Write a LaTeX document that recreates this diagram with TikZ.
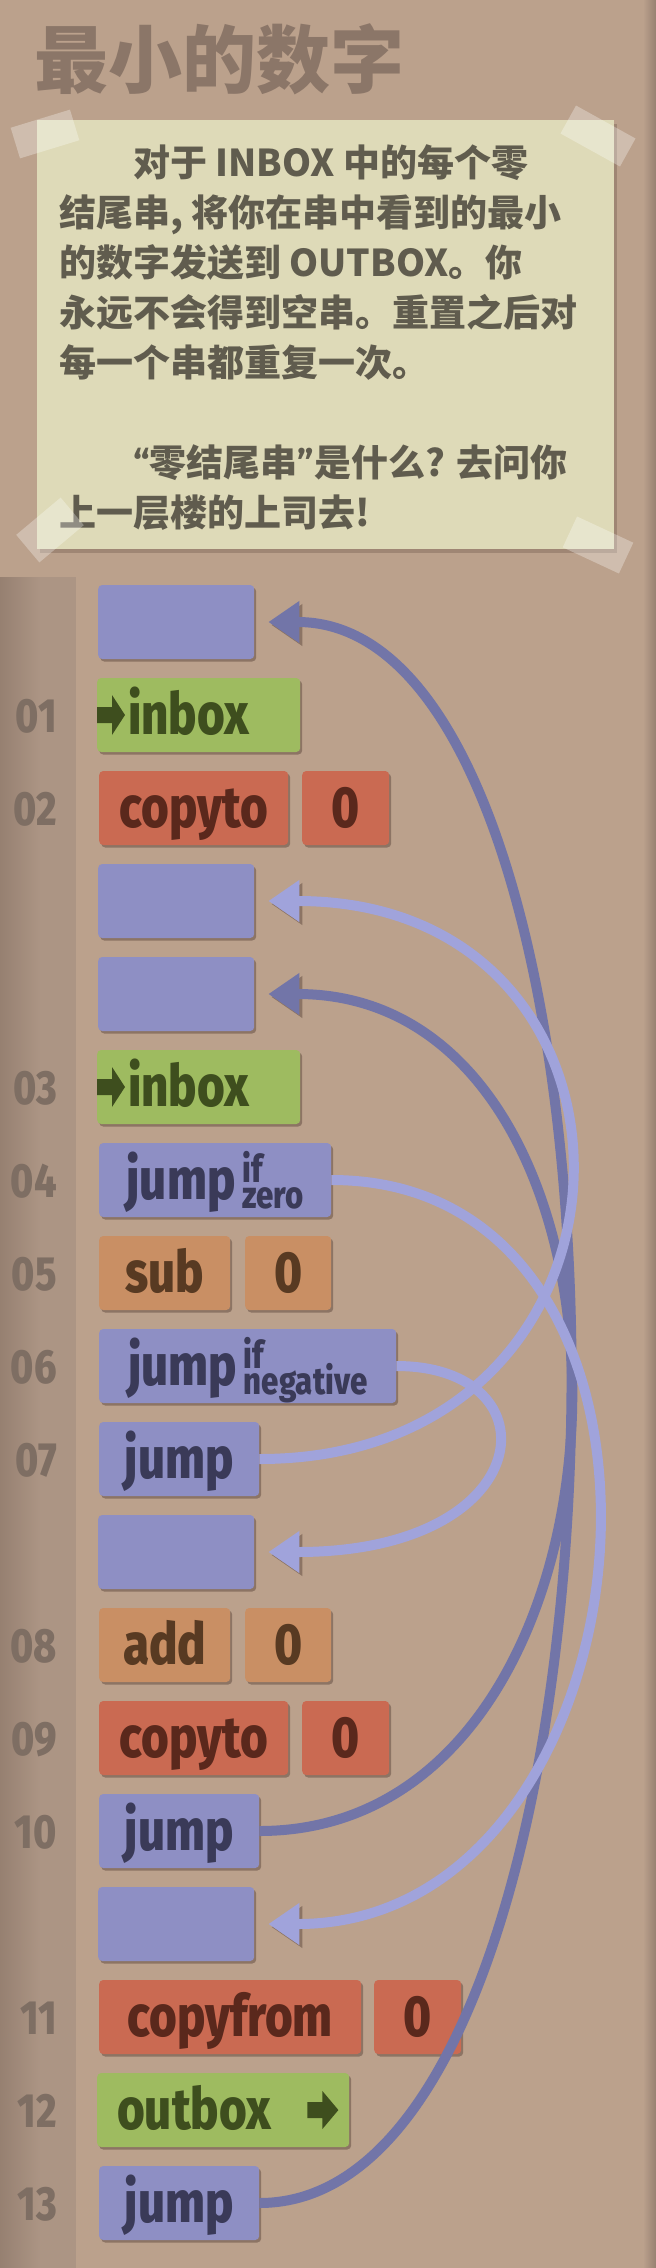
\documentclass[tikz,border=0pt]{standalone}
\usepackage{fontspec}
\usetikzlibrary{arrows.meta,shadows}
\newfontfamily\hrm{Fira Sans}[FakeStretch=0.82,BoldFont={* ExtraBold}]
\newfontfamily\cjk{Noto Sans CJK SC}
\newfontfamily\qfont{Fira Sans}
\definecolor{floor}{RGB}{187,161,140}
\definecolor{strip}{RGB}{172,149,132}
\definecolor{stripdk}{RGB}{150,128,113}
\definecolor{paper}{RGB}{222,218,184}
\definecolor{ink}{RGB}{96,92,78}
\definecolor{ttl}{RGB}{139,118,104}
\definecolor{lnum}{RGB}{126,110,99}
\definecolor{jbox}{RGB}{142,143,196}
\definecolor{jtxt}{RGB}{58,58,88}
\definecolor{gbox}{RGB}{158,187,96}
\definecolor{gtxt}{RGB}{62,78,30}
\definecolor{rbox}{RGB}{202,106,82}
\definecolor{rtxt}{RGB}{90,40,28}
\definecolor{obox}{RGB}{201,143,100}
\definecolor{otxt}{RGB}{88,58,34}
\definecolor{jdark}{RGB}{114,117,168}
\definecolor{jlight}{RGB}{160,163,219}
\definecolor{shd}{RGB}{140,116,100}
% small stacked "if / cond" after jump
\newcommand\ifcond[1]{\hspace{7pt}\raisebox{-9pt}{\fontsize{38}{26}\selectfont\vbox{\lineskiplimit=-50pt\baselineskip=26pt\hbox{if}\hbox{#1}}}}
\newcommand\qopen{{\qfont\bfseries “}}
\newcommand\qclose{{\qfont\bfseries ”}}
\tikzset{
  instr/.style={rounded corners=4pt,minimum height=74pt,inner sep=0pt,anchor=west,
    text height=44pt,text depth=5pt,font=\hrm\bfseries\fontsize{58}{58}\selectfont,
    drop shadow={shadow xshift=2pt,shadow yshift=-2.5pt,fill=shd,opacity=1}},
  lbl/.style={instr,fill=jbox,minimum width=156pt},
  jmp/.style={instr,fill=jbox,text=jtxt},
  io/.style={instr,fill=gbox,text=gtxt,align=left},
  mem/.style={instr,fill=rbox,text=rtxt},
  arith/.style={instr,fill=obox,text=otxt},
  ln/.style={anchor=base east,inner sep=0pt,text=lnum,font=\hrm\bfseries\fontsize{48}{48}\selectfont},
  nt/.style={anchor=base west,inner sep=0pt,text=ink,font=\cjk\bfseries\fontsize{37}{37}\selectfont},
  tape/.style={fill=white,opacity=0.3},
  jd/.style={draw=jdark,line width=10pt,-{Triangle[length=31pt,width=40pt]},
    preaction={draw=shd,transform canvas={shift={(3pt,-3pt)}}}},
  jl/.style={jd,draw=jlight},
}

\begin{document}
\begin{tikzpicture}[x=1pt,y=-1pt]
\useasboundingbox (0,0) rectangle (656,2268);
\fill[floor] (0,0) rectangle (656,2268);
\shade[left color=floor,right color=stripdk] (643,0) rectangle (656,2268);
\shade[left color=stripdk,right color=strip] (0,577) rectangle (40,2268);
\fill[strip] (40,577) rectangle (76,2268);
% title and note
\node[anchor=base west,inner sep=0pt,text=ttl,font=\cjk\bfseries\fontsize{74}{74}\selectfont] (title) at (34,87) {最小的数字};
\fill[shd!60!floor] (40,124) rectangle (617,553);
\fill[paper] (37,120) rectangle (614,549);
\node[nt] (t1) at (133,176) {对于 INBOX 中的每个零};
\node[nt] (t2) at (59,226) {结尾串, 将你在串中看到的最小};
\node[nt] (t3) at (59,276) {的数字发送到 OUTBOX。你};
\node[nt] (t4) at (59,326) {永远不会得到空串。重置之后对};
\node[nt] (t5) at (59,376) {每一个串都重复一次。};
\node[nt] (t6) at (133,476) {\qopen 零结尾串\qclose 是什么? 去问你};
\node[nt] (t7) at (59,526) {上一层楼的上司去!};
\fill[tape,rotate around={17:(45,134)}] (14,118) rectangle (76,150);
\fill[tape,rotate around={-29:(598,136)}] (564,120) rectangle (632,152);
\fill[tape,rotate around={40:(50,530)}] (21,512) rectangle (79,548);
\fill[tape,rotate around={-25:(598,545)}] (567,528) rectangle (629,562);
% program
\node[lbl] (lblA) at (98,622) {};
\node[io,text width=203pt] (i01) at (97,715) {\hspace*{31pt}inbox};
\node[mem,minimum width=189pt] (i02) at (99,808) {copyto};
\node[mem,minimum width=87pt] (a02) at (302,808) {0};
\node[lbl] (lblB) at (98,901) {};
\node[lbl] (lblC) at (98,994) {};
\node[io,text width=203pt] (i03) at (97,1087) {\hspace*{31pt}inbox};
\node[jmp,minimum width=232pt] (i04) at (99,1180) {jump\ifcond{zero}};
\node[arith,minimum width=131pt] (i05) at (99,1273) {sub};
\node[arith,minimum width=86pt] (a05) at (245,1273) {0};
\node[jmp,minimum width=297pt] (i06) at (99,1366) {jump\ifcond{negative}};
\node[jmp,minimum width=160pt] (i07) at (99,1459) {jump};
\node[lbl] (lblD) at (98,1552) {};
\node[arith,minimum width=131pt] (i08) at (99,1645) {add};
\node[arith,minimum width=86pt] (a08) at (245,1645) {0};
\node[mem,minimum width=189pt] (i09) at (99,1738) {copyto};
\node[mem,minimum width=87pt] (a09) at (302,1738) {0};
\node[jmp,minimum width=160pt] (i10) at (99,1831) {jump};
\node[lbl] (lblE) at (98,1924) {};
\node[mem,minimum width=262pt] (i11) at (99,2017) {copyfrom};
\node[mem,minimum width=87pt] (a11) at (374,2017) {0};
\node[io,text width=252pt] (i12) at (97,2110) {\hspace*{20pt}outbox};
\node[jmp,minimum width=160pt] (i13) at (99,2203) {jump};
\fill[gtxt] (i01.west) ++(0,-8) -- ++(15,0) -- ++(0,-12) -- ++(13,20) -- ++(-13,20) -- ++(0,-12) -- ++(-15,0) -- cycle;
\fill[gtxt] (i03.west) ++(0,-8) -- ++(15,0) -- ++(0,-12) -- ++(13,20) -- ++(-13,20) -- ++(0,-12) -- ++(-15,0) -- cycle;
\fill[gtxt] (i12.east) ++(-42,-8) -- ++(15,0) -- ++(0,-11) -- ++(16,19) -- ++(-16,19) -- ++(0,-11) -- ++(-15,0) -- cycle;
% line numbers
\node[ln] (n01) at (57,732) {01};
\node[ln] (n02) at (57,825) {02};
\node[ln] (n03) at (57,1104) {03};
\node[ln] (n04) at (57,1197) {04};
\node[ln] (n05) at (57,1290) {05};
\node[ln] (n06) at (57,1383) {06};
\node[ln] (n07) at (57,1476) {07};
\node[ln] (n08) at (57,1662) {08};
\node[ln] (n09) at (57,1755) {09};
\node[ln] (n10) at (57,1848) {10};
\node[ln] (n11) at (57,2034) {11};
\node[ln] (n12) at (57,2127) {12};
\node[ln] (n13) at (57,2220) {13};
% jumps
\draw[jd] (i13.east) .. controls +(405,0) and +(405,0) .. ([xshift=14pt]lblA.east);
\draw[jd] (i10.east) .. controls +(406,0) and +(406,0) .. ([xshift=14pt]lblC.east);
\draw[jl] (i07.east) .. controls +(408,0) and +(408,0) .. ([xshift=14pt]lblB.east);
\draw[jl] (i04.east) .. controls +(395,0) and +(395,0) .. ([xshift=14pt]lblE.east);
\draw[jl] (i06.east) .. controls +(160,0) and +(272,0) .. ([xshift=14pt]lblD.east);
\end{tikzpicture}
\end{document}
